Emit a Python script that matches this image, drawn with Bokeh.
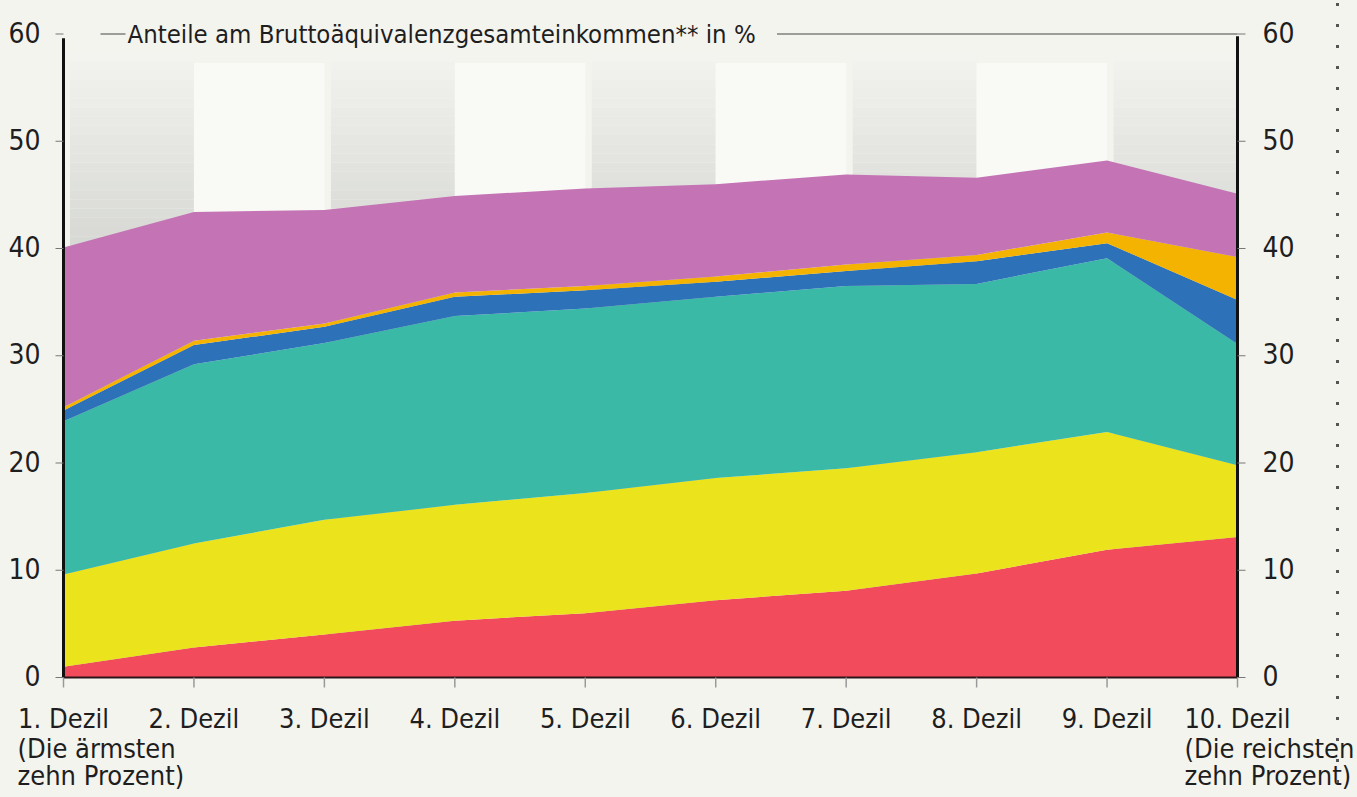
import numpy as np
from bokeh.plotting import figure
from bokeh.models import Range1d, ColumnDataSource
from bokeh.core.properties import value
from bokeh.embed import file_html
from bokeh.resources import INLINE

# ---------------- data ----------------
decile_labels = ["1. Dezil", "2. Dezil", "3. Dezil", "4. Dezil", "5. Dezil",
                 "6. Dezil", "7. Dezil", "8. Dezil", "9. Dezil", "10. Dezil"]
decile_pos = list(range(10))

share_red     = [1.0, 2.8, 4.0, 5.3, 6.0, 7.2, 8.1, 9.7, 11.9, 13.1]
share_yellow  = [8.6, 9.7, 10.7, 10.8, 11.2, 11.4, 11.4, 11.3, 11.0, 6.7]
share_teal    = [14.3, 16.7, 16.5, 17.6, 17.2, 16.9, 17.0, 15.7, 16.2, 11.3]
share_blue    = [1.0, 1.8, 1.5, 1.8, 1.7, 1.4, 1.4, 2.1, 1.4, 4.1]
share_orange  = [0.3, 0.4, 0.3, 0.4, 0.4, 0.5, 0.6, 0.6, 1.0, 4.0]
share_magenta = [14.9, 12.0, 10.6, 9.0, 9.1, 8.6, 8.4, 7.2, 6.7, 5.9]

y_ticks = [0, 10, 20, 30, 40, 50, 60]
y_tick_labels = ["0", "10", "20", "30", "40", "50", "60"]
title_text = "Anteile am Bruttoäquivalenzgesamteinkommen** in %"
sub_texts = ["(Die ärmsten", "zehn Prozent)", "(Die reichsten", "zehn Prozent)"]
sub_decile = [0, 0, 9, 9]

layer_names = ["red", "yellow", "teal", "blue", "orange", "magenta"]
layer_colors = ["#f24b5c", "#ebe31b", "#39b9a6", "#2d72b9", "#f5b301", "#c473b5"]

# ---------------- layout / style ----------------
W, H = 1357, 797
FRAME_L, FRAME_R = 63, 1237      # pixel position of decile 1 / decile 10
ZERO_Y, SIXTY_Y = 677, 33.5      # pixel position of 0 % / 60 %
SX = (FRAME_R - FRAME_L) / 9.0
SY = (ZERO_Y - SIXTY_Y) / 60.0
FONT = "DejaVu Sans Condensed"
BG = "#f4f4ef"
TXT = "#1e1e1e"

p = figure(width=W, height=H,
           x_range=Range1d(-FRAME_L / SX, 9 + (W - FRAME_R) / SX),
           y_range=Range1d(-(H - ZERO_Y) / SY, ZERO_Y / SY),
           output_backend="svg", toolbar_location=None,
           min_border=0, min_border_left=0, min_border_right=0,
           min_border_top=0, min_border_bottom=0,
           background_fill_color=BG, border_fill_color=BG,
           outline_line_color=None)
p.axis.visible = False
p.grid.visible = False

# background bands (alternating gray gradient / light)
top_val = 58.3
n_strips = 26
levels = np.linspace(top_val, 36.0, n_strips + 1)
c_top = np.array([243, 243, 239])
c_bot = np.array([209, 211, 207])
bl, br, bt, bb, bc = [], [], [], [], []
for i in range(9):
    if i % 2 == 0:
        for k in range(n_strips):
            t = k / (n_strips - 1)
            c = (c_top * (1 - t) + c_bot * t).astype(int)
            bl.append(i + 0.05); br.append(i + 1)
            bt.append(levels[k]); bb.append(levels[k + 1] if k < n_strips - 1 else 0)
            bc.append("#%02x%02x%02x" % tuple(c))
    else:
        bl.append(i); br.append(i + 1); bt.append(top_val - 1.0); bb.append(0)
        bc.append("#f9f9f6")
p.quad(left=bl, right=br, top=bt, bottom=bb, fill_color=bc, line_color=None)

# stacked areas
src = ColumnDataSource(dict(x=decile_pos, red=share_red, yellow=share_yellow,
                            teal=share_teal, blue=share_blue, orange=share_orange,
                            magenta=share_magenta))
p.varea_stack(stackers=layer_names, x="x", color=layer_colors, source=src)

# 60 % gridline, interrupted by the title
p.segment(x0=[37 / SX, 5.47], y0=[60, 60], x1=[62 / SX, 9], y1=[60, 60],
          line_color="#9c9c9a", line_width=2)
p.text(x=[64 / SX], y=[60], text=[title_text], text_font=value(FONT),
       text_font_size=value("25.5px"), text_color=TXT,
       text_align="left", text_baseline="middle")

# axis lines
p.segment(x0=[0, 9], y0=[0, 0], x1=[0, 9], y1=[59.6, 59.8],
          line_color="#111111", line_width=3)
p.segment(x0=[0], y0=[0], x1=[9], y1=[0], line_color="#2a1518", line_width=2)

# y ticks (left and right)
yt = np.array(y_ticks, dtype=float)
tick_len_x = 8 / SX
p.segment(x0=np.full(len(yt), -tick_len_x), y0=yt, x1=np.zeros(len(yt)), y1=yt,
          line_color="#777777", line_width=1)
p.segment(x0=np.full(len(yt), 9.0), y0=yt, x1=np.full(len(yt), 9 + tick_len_x), y1=yt,
          line_color="#777777", line_width=1)

# x ticks
xt = np.array(decile_pos, dtype=float)
p.segment(x0=xt, y0=np.zeros(len(xt)), x1=xt, y1=np.full(len(xt), -10 / SY),
          line_color="#999999", line_width=1.5)

# y tick labels
p.text(x=np.zeros(len(yt)), y=yt, text=y_tick_labels, x_offset=-23, y_offset=-2,
       text_font=value(FONT), text_font_size=value("28px"), text_color=TXT,
       text_align="right", text_baseline="middle")
p.text(x=np.full(len(yt), 9.0), y=yt, text=y_tick_labels, x_offset=25, y_offset=-2,
       text_font=value(FONT), text_font_size=value("28px"), text_color=TXT,
       text_align="left", text_baseline="middle")

# x tick labels
p.text(x=xt, y=np.zeros(len(xt)), text=decile_labels, y_offset=41,
       text_font=value(FONT), text_font_size=value("27px"), text_color=TXT,
       text_align="center", text_baseline="middle")

# second/third line of the first and last decile label
sub_src = ColumnDataSource(dict(x=sub_decile, y=[0, 0, 0, 0], text=sub_texts,
                                xo=[-46, -46, -53, -53], yo=[71, 98, 71, 98]))
p.text(x="x", y="y", text="text", x_offset="xo", y_offset="yo", source=sub_src,
       text_font=value(FONT), text_font_size=value("27px"), text_color=TXT,
       text_align="left", text_baseline="middle")

# dotted separator on the right edge
dot_px = np.arange(4, H, 21)
p.scatter(x=np.full(len(dot_px), (1337 - FRAME_L) / SX), y=(ZERO_Y - dot_px) / SY,
          marker="square", size=3, color="#555555", line_color=None)

html = file_html(p, INLINE)
html = html.replace("<head>", "<head><style>html,body{background:#f4f4ef;}</style>", 1)
open("out.html", "w").write(html)
